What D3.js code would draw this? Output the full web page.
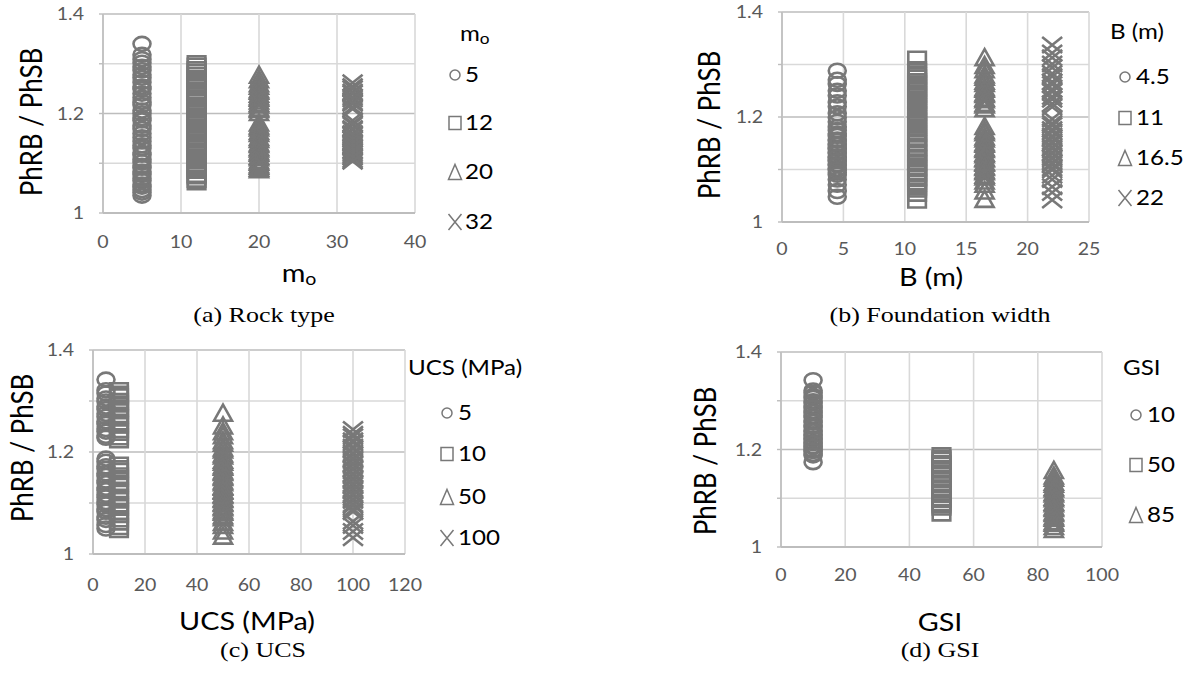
<!DOCTYPE html>
<html>
<head>
<meta charset="utf-8">
<script src="https://cdn.jsdelivr.net/npm/d3@7"></script>
<style>
  body { margin: 0; background: #ffffff; }
  svg { display: block; }
</style>
</head>
<body>
<svg id="fig" width="1198" height="673"></svg>
<script>
// ---------------------------------------------------------------
// PhRB / PhSB ratio for every analysed case, grouped by parameter
// ---------------------------------------------------------------

// (a) rock type, m_o
const moLevels = [5, 12, 20, 32];
const moRatio5 = [1.340, 1.318, 1.309, 1.302, 1.294, 1.287, 1.278, 1.272, 1.263, 1.254, 1.249, 1.240, 1.232, 1.223, 1.217, 1.206, 1.200, 1.191, 1.186, 1.176, 1.169, 1.160, 1.152, 1.144, 1.136, 1.130, 1.121, 1.117, 1.108, 1.102, 1.095, 1.091, 1.083, 1.078, 1.070, 1.065, 1.057, 1.053, 1.046, 1.041, 1.035];
const moRatio12 = [1.300, 1.295, 1.288, 1.283, 1.277, 1.271, 1.268, 1.261, 1.257, 1.252, 1.246, 1.243, 1.236, 1.231, 1.225, 1.222, 1.214, 1.210, 1.203, 1.199, 1.193, 1.188, 1.181, 1.177, 1.170, 1.166, 1.159, 1.154, 1.147, 1.142, 1.135, 1.131, 1.124, 1.119, 1.112, 1.108, 1.100, 1.097, 1.089, 1.086, 1.078, 1.075, 1.068, 1.063];
const moRatio20 = [1.278, 1.269, 1.261, 1.256, 1.249, 1.246, 1.240, 1.235, 1.232, 1.226, 1.221, 1.218, 1.212, 1.209, 1.203, 1.182, 1.176, 1.172, 1.165, 1.161, 1.153, 1.149, 1.142, 1.139, 1.133, 1.130, 1.124, 1.121, 1.115, 1.112, 1.106, 1.103, 1.098, 1.095, 1.091, 1.088];
const moRatio32 = [1.262, 1.254, 1.250, 1.243, 1.240, 1.233, 1.229, 1.223, 1.220, 1.213, 1.209, 1.186, 1.180, 1.177, 1.170, 1.167, 1.160, 1.157, 1.151, 1.148, 1.142, 1.139, 1.134, 1.131, 1.126, 1.123, 1.119, 1.115, 1.112, 1.107, 1.104];

// (b) foundation width, B (m)
const bLevels = [4.5, 11, 16.5, 22];
const bRatio45 = [1.288, 1.271, 1.263, 1.250, 1.241, 1.228, 1.220, 1.207, 1.199, 1.191, 1.181, 1.175, 1.168, 1.164, 1.157, 1.155, 1.149, 1.147, 1.141, 1.139, 1.133, 1.131, 1.125, 1.123, 1.118, 1.116, 1.110, 1.108, 1.102, 1.099, 1.094, 1.090, 1.081, 1.071, 1.059, 1.048];
const bRatio11 = [1.310, 1.290, 1.286, 1.278, 1.274, 1.267, 1.263, 1.255, 1.251, 1.243, 1.240, 1.232, 1.228, 1.220, 1.216, 1.208, 1.204, 1.196, 1.192, 1.185, 1.181, 1.173, 1.169, 1.162, 1.159, 1.152, 1.149, 1.142, 1.139, 1.132, 1.129, 1.123, 1.120, 1.114, 1.111, 1.105, 1.102, 1.096, 1.093, 1.086, 1.084, 1.077, 1.074, 1.067, 1.063, 1.055, 1.042];
const bRatio165 = [1.314, 1.299, 1.291, 1.281, 1.277, 1.269, 1.265, 1.257, 1.254, 1.247, 1.244, 1.237, 1.234, 1.227, 1.224, 1.217, 1.183, 1.175, 1.171, 1.163, 1.159, 1.152, 1.149, 1.142, 1.139, 1.132, 1.129, 1.123, 1.121, 1.115, 1.113, 1.107, 1.105, 1.099, 1.097, 1.090, 1.087, 1.079, 1.073, 1.060, 1.044];
const bRatio22 = [1.337, 1.322, 1.313, 1.301, 1.294, 1.283, 1.277, 1.267, 1.262, 1.253, 1.248, 1.239, 1.234, 1.225, 1.219, 1.196, 1.188, 1.184, 1.176, 1.172, 1.164, 1.160, 1.153, 1.150, 1.143, 1.140, 1.133, 1.130, 1.123, 1.120, 1.113, 1.110, 1.103, 1.099, 1.089, 1.081, 1.067, 1.056, 1.042];

// (c) uniaxial compressive strength, UCS (MPa)
const ucsLevels = [5, 10, 50, 100];
const ucsRatio5 = [1.342, 1.321, 1.315, 1.305, 1.299, 1.289, 1.284, 1.275, 1.269, 1.260, 1.255, 1.245, 1.240, 1.232, 1.228, 1.187, 1.181, 1.172, 1.167, 1.158, 1.153, 1.144, 1.139, 1.130, 1.125, 1.116, 1.111, 1.102, 1.097, 1.088, 1.083, 1.073, 1.067, 1.057, 1.050];
const ucsRatio10 = [1.320, 1.313, 1.308, 1.299, 1.294, 1.286, 1.281, 1.272, 1.267, 1.258, 1.253, 1.244, 1.239, 1.230, 1.224, 1.174, 1.167, 1.162, 1.153, 1.148, 1.139, 1.134, 1.125, 1.120, 1.111, 1.106, 1.097, 1.092, 1.083, 1.078, 1.069, 1.063, 1.054, 1.048];
const ucsRatio50 = [1.277, 1.252, 1.241, 1.233, 1.223, 1.218, 1.209, 1.205, 1.197, 1.193, 1.185, 1.181, 1.174, 1.171, 1.164, 1.161, 1.154, 1.151, 1.144, 1.141, 1.134, 1.132, 1.126, 1.124, 1.118, 1.116, 1.110, 1.108, 1.102, 1.100, 1.094, 1.092, 1.086, 1.083, 1.076, 1.072, 1.063, 1.057, 1.046, 1.036];
const ucsRatio100 = [1.244, 1.235, 1.230, 1.222, 1.218, 1.210, 1.206, 1.198, 1.195, 1.188, 1.185, 1.178, 1.175, 1.168, 1.165, 1.158, 1.155, 1.148, 1.145, 1.138, 1.135, 1.128, 1.125, 1.118, 1.115, 1.108, 1.105, 1.098, 1.095, 1.088, 1.083, 1.064, 1.056, 1.044, 1.032];

// (d) geological strength index, GSI
const gsiLevels = [10, 50, 85];
const gsiRatio10 = [1.342, 1.321, 1.317, 1.310, 1.306, 1.299, 1.296, 1.289, 1.286, 1.279, 1.276, 1.269, 1.266, 1.259, 1.256, 1.249, 1.246, 1.239, 1.237, 1.231, 1.229, 1.223, 1.221, 1.215, 1.213, 1.207, 1.205, 1.199, 1.197, 1.191, 1.188, 1.174];
const gsiRatio50 = [1.187, 1.181, 1.178, 1.171, 1.168, 1.161, 1.158, 1.151, 1.148, 1.141, 1.138, 1.131, 1.128, 1.121, 1.118, 1.111, 1.108, 1.101, 1.098, 1.091, 1.087, 1.082, 1.070];
const gsiRatio85 = [1.158, 1.147, 1.142, 1.134, 1.130, 1.123, 1.120, 1.113, 1.110, 1.103, 1.100, 1.093, 1.090, 1.083, 1.080, 1.073, 1.070, 1.063, 1.060, 1.053, 1.050, 1.043, 1.037];

// shared y axis
const yDomain = [1, 1.4];
const yGrid = [1, 1.1, 1.2, 1.3, 1.4];
const yTickLabels = [1, 1.2, 1.4];
const markerShapes = ["circle", "square", "triangle", "cross"];

// ---------------------------------------------------------------
// layout of the four panels
// ---------------------------------------------------------------
const panels = [
  {
    levels: moLevels, groups: [moRatio5, moRatio12, moRatio20, moRatio32],
    xDomain: [0, 40], xTicks: [0, 10, 20, 30, 40],
    left: 103, right: 415, top: 14, bottom: 213, tickY: 248,
    yTitle: [31, 122], xTitle: { x: 299, y: 282, main: "m", sub: "o" },
    legend: { title: { main: "m", sub: "o" }, titleX: 460, titleY: 41, symX: 455, textX: 465, rows: [82, 130, 179, 229] },
    caption: { x: 264, y: 322, text: "(a) Rock type" }
  },
  {
    levels: bLevels, groups: [bRatio45, bRatio11, bRatio165, bRatio22],
    xDomain: [0, 25], xTicks: [0, 5, 10, 15, 20, 25],
    left: 782, right: 1089, top: 12, bottom: 222, tickY: 255,
    yTitle: [709, 125], xTitle: { x: 931, y: 286, main: "B (m)" },
    legend: { title: { main: "B (m)" }, titleX: 1110, titleY: 39, symX: 1125, textX: 1136, rows: [84, 125, 165, 205] },
    caption: { x: 940, y: 322, text: "(b) Foundation width" }
  },
  {
    levels: ucsLevels, groups: [ucsRatio5, ucsRatio10, ucsRatio50, ucsRatio100],
    xDomain: [0, 120], xTicks: [0, 20, 40, 60, 80, 100, 120],
    left: 93, right: 405, top: 350, bottom: 554, tickY: 591,
    yTitle: [22, 448], xTitle: { x: 247, y: 630, main: "UCS (MPa)" },
    legend: { title: { main: "UCS (MPa)" }, titleX: 408, titleY: 375, symX: 447, textX: 458, rows: [420, 461, 504, 545] },
    caption: { x: 263, y: 657, text: "(c) UCS" }
  },
  {
    levels: gsiLevels, groups: [gsiRatio10, gsiRatio50, gsiRatio85],
    xDomain: [0, 100], xTicks: [0, 20, 40, 60, 80, 100],
    left: 781, right: 1102, top: 352, bottom: 547, tickY: 581,
    yTitle: [705, 461], xTitle: { x: 940, y: 631, main: "GSI" },
    legend: { title: { main: "GSI" }, titleX: 1123, titleY: 375, symX: 1136, textX: 1147, rows: [422, 472, 522] },
    caption: { x: 940, y: 657, text: "(d) GSI" }
  }
];

// ---------------------------------------------------------------
// styles
// ---------------------------------------------------------------
const SANS = "Lato, 'Open Sans', sans-serif";
const SERIF = "'Liberation Serif', 'Times New Roman', serif";
const markGrey = "#787878";
const gridMajor = "#bdbdbd";
const gridMinor = "#d9d9d9";

// elliptical marker outlines (wider than tall)
function markerPath(shape, rx, ry) {
  const p = d3.path();
  if (shape === "circle") {
    p.moveTo(-rx, 0);
    // ellipse from four cubic segments
    const k = 0.5523;
    p.bezierCurveTo(-rx, -ry * k, -rx * k, -ry, 0, -ry);
    p.bezierCurveTo(rx * k, -ry, rx, -ry * k, rx, 0);
    p.bezierCurveTo(rx, ry * k, rx * k, ry, 0, ry);
    p.bezierCurveTo(-rx * k, ry, -rx, ry * k, -rx, 0);
    p.closePath();
  } else if (shape === "square") {
    p.rect(-rx, -ry, 2 * rx, 2 * ry);
  } else if (shape === "triangle") {
    p.moveTo(0, -ry); p.lineTo(rx, ry); p.lineTo(-rx, ry); p.closePath();
  } else {
    p.moveTo(-rx, -ry); p.lineTo(rx, ry);
    p.moveTo(rx, -ry); p.lineTo(-rx, ry);
  }
  return p.toString();
}
const plotMarker = {
  circle: [8.5, 7], square: [8.8, 7.5], triangle: [9, 8], cross: [10, 8]
};
const legendMarker = {
  circle: [5, 5], square: [6, 6.5], triangle: [6.5, 7.5], cross: [6.5, 8]
};

// text drawn slightly widened, anchored at (x, y)
function wideText(g, x, y, opt) {
  return g.append("text")
    .attr("transform", `translate(${x},${y}) scale(${opt.sx || 1},1)`)
    .attr("font-family", opt.family || SANS)
    .attr("font-size", opt.size)
    .attr("fill", opt.fill || "#000")
    .attr("text-anchor", opt.anchor || "start");
}
function writeLabel(t, spec, subSize) {
  t.append("tspan").text(spec.main);
  if (spec.sub) {
    t.append("tspan").attr("font-size", subSize).attr("dy", "0.18em").text(spec.sub);
  }
}

const svg = d3.select("#fig");

panels.forEach(pn => {
  const g = svg.append("g");
  const x = d3.scaleLinear().domain(pn.xDomain).range([pn.left, pn.right]);
  const y = d3.scaleLinear().domain(yDomain).range([pn.bottom, pn.top]);

  // horizontal grid lines (0.1 steps, majors at 0.2)
  g.selectAll("line.hgrid").data(yGrid).join("line")
    .attr("x1", pn.left).attr("x2", pn.right)
    .attr("y1", d => y(d)).attr("y2", d => y(d))
    .attr("stroke", d => (Math.round(d * 10) % 2 === 0 ? gridMajor : gridMinor))
    .attr("stroke-width", 1.6);
  // vertical grid lines at every x tick
  g.selectAll("line.vgrid").data(pn.xTicks).join("line")
    .attr("x1", d => x(d)).attr("x2", d => x(d))
    .attr("y1", pn.top).attr("y2", pn.bottom)
    .attr("stroke", gridMinor).attr("stroke-width", 1.6);
  // axis baseline and left frame
  g.append("line").attr("x1", pn.left).attr("x2", pn.right)
    .attr("y1", y(1)).attr("y2", y(1)).attr("stroke", gridMajor).attr("stroke-width", 1.8);
  g.append("line").attr("x1", pn.left).attr("x2", pn.left)
    .attr("y1", pn.top).attr("y2", pn.bottom).attr("stroke", gridMajor).attr("stroke-width", 1.6);
  // small outside ticks on the left frame
  g.selectAll("line.ytick").data(yGrid).join("line")
    .attr("x1", pn.left - 4).attr("x2", pn.left)
    .attr("y1", d => y(d)).attr("y2", d => y(d))
    .attr("stroke", gridMajor).attr("stroke-width", 1.4);

  // y tick labels
  yTickLabels.forEach(v => {
    wideText(g, pn.left - 19, y(v) + 6, { size: 17, fill: "#595959", anchor: "end", sx: 1.15 })
      .text(String(v));
  });
  // x tick labels
  pn.xTicks.forEach(v => {
    wideText(g, x(v), pn.tickY, { size: 17, fill: "#595959", anchor: "middle", sx: 1.15 })
      .text(String(v));
  });

  // y axis title
  g.append("text")
    .attr("transform", `translate(${pn.yTitle[0]},${pn.yTitle[1]}) rotate(-90) scale(1,1.15)`)
    .attr("text-anchor", "middle").attr("dy", "0.36em")
    .attr("font-family", SANS).attr("font-size", 26).attr("fill", "#000")
    .text("PhRB / PhSB");

  // x axis title
  const xt = wideText(g, pn.xTitle.x, pn.xTitle.y, { size: 25, anchor: "middle", sx: 1.15 });
  writeLabel(xt, pn.xTitle, 17);

  // data markers
  pn.groups.forEach((vals, i) => {
    const shape = markerShapes[i];
    const [rx, ry] = plotMarker[shape];
    const d = markerPath(shape, rx, ry);
    g.append("g").selectAll("path").data(vals).join("path")
      .attr("d", d)
      .attr("transform", v => `translate(${x(pn.levels[i])},${y(v)})`)
      .attr("fill", "none")
      .attr("stroke", markGrey)
      .attr("stroke-width", 2.6);
  });

  // legend
  const lg = pn.legend;
  const lt = wideText(g, lg.titleX, lg.titleY, { size: 21, sx: 1.15 });
  writeLabel(lt, lg.title, 15);
  pn.levels.forEach((lev, i) => {
    const shape = markerShapes[i];
    const [rx, ry] = legendMarker[shape];
    g.append("path")
      .attr("d", markerPath(shape, rx, ry))
      .attr("transform", `translate(${lg.symX},${lg.rows[i] - 7})`)
      .attr("fill", "none").attr("stroke", markGrey).attr("stroke-width", 1.5);
    wideText(g, lg.textX, lg.rows[i], { size: 21, sx: 1.15 }).text(String(lev));
  });

  // caption
  wideText(g, pn.caption.x, pn.caption.y, { size: 20, family: SERIF, anchor: "middle", sx: 1.3 })
    .text(pn.caption.text);
});
</script>
</body>
</html>
